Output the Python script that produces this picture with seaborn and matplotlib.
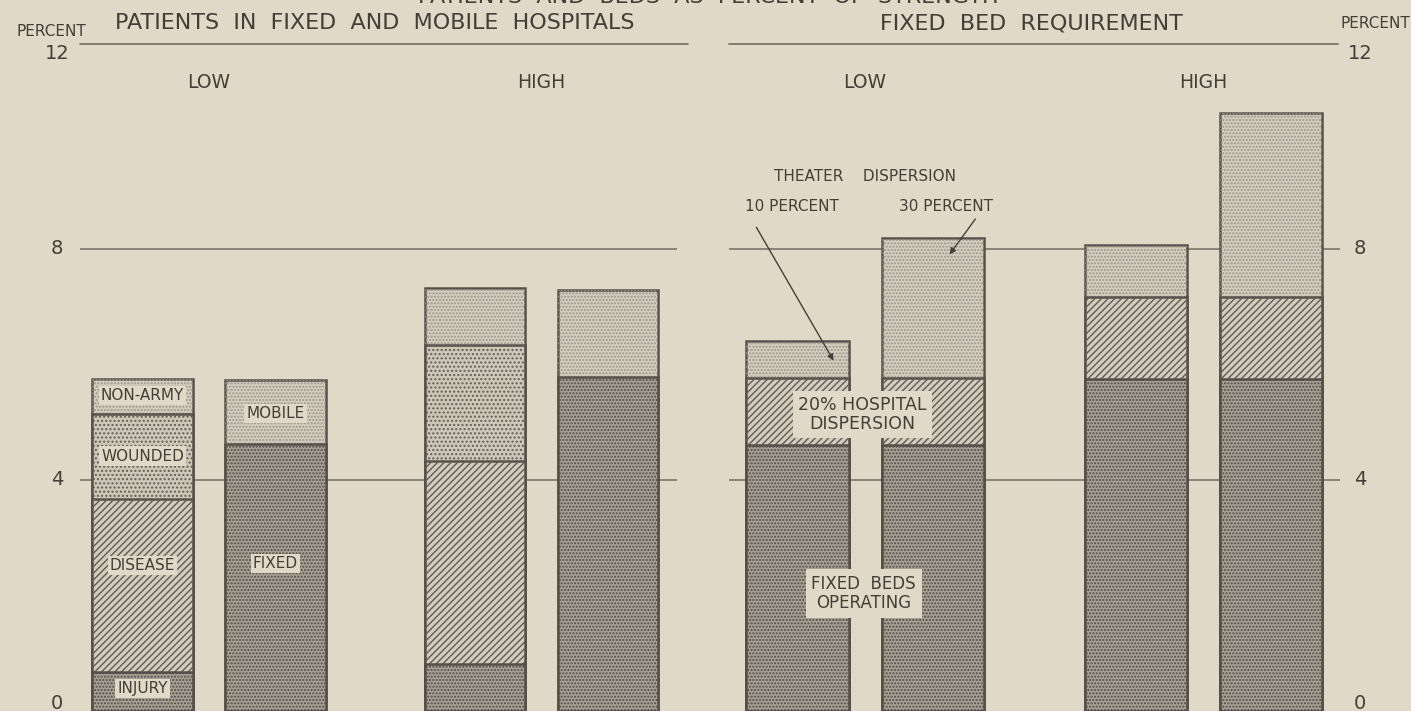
import numpy as np
import pandas as pd
import matplotlib
matplotlib.use('Agg')
import matplotlib.pyplot as plt
from matplotlib.patches import Rectangle
from matplotlib.lines import Line2D
from matplotlib.transforms import blended_transform_factory
import seaborn as sns

# values (percent of strength)
GROUPS = ['LOW', 'HIGH']

# left panel: patients by cause / by kind of hospital
CAUSE_SEGMENTS = ['INJURY', 'DISEASE', 'WOUNDED', 'NON-ARMY']
CAUSE_LOW = [0.67, 2.99, 1.48, 0.60]
CAUSE_HIGH = [0.81, 3.52, 2.00, 0.98]

HOSP_SEGMENTS = ['FIXED', 'MOBILE']
HOSP_LOW = [4.62, 1.10]
HOSP_HIGH = [5.78, 1.51]

# right panel: fixed bed requirement, 10 and 30 percent theater dispersion
BED_SEGMENTS = ['FIXED BEDS', 'HOSPITAL DISPERSION', 'THEATER DISPERSION']
BEDS_LOW_10 = [4.60, 1.16, 0.64]
BEDS_LOW_30 = [4.60, 1.16, 2.43]
BEDS_HIGH_10 = [5.74, 1.42, 0.91]
BEDS_HIGH_30 = [5.74, 1.42, 3.18]

Y_TICKS = [0, 4, 8, 12]

# look
BG = '#e0d9c7'
EDGE = '#55514a'
TEXT = '#423f39'
GRID = '#7a766e'
GROUP_STEP = 2.5
BAR_WIDTH = 0.755

FILLS = {
    'dense': ('#a7a195', '#4f4b45', '.....'),
    'medium': ('#cdc7b8', '#625e57', '....'),
    'light': ('#d4cebf', '#9a958a', '.....'),
    'lines': ('#d2ccbd', '#605c55', '/////'),
}
SEGMENT_FILL = {
    'INJURY': 'dense', 'DISEASE': 'lines', 'WOUNDED': 'medium', 'NON-ARMY': 'light',
    'FIXED': 'dense', 'MOBILE': 'light',
    'FIXED BEDS': 'dense', 'HOSPITAL DISPERSION': 'lines', 'THEATER DISPERSION': 'light',
}

sns.set_style('white')
plt.rcParams['font.family'] = ['DejaVu Sans']
plt.rcParams['hatch.linewidth'] = 1.0

W, H = 1411, 711
fig = plt.figure(figsize=(W / 100, H / 100), dpi=100, facecolor=BG)


def px(x, y):
    return x / W, 1 - y / H


def bar_positions():
    return [g * GROUP_STEP + m for g in range(len(GROUPS)) for m in range(2)]


def draw_stacks(ax, stacks):
    """stacked bars: draw cumulative tops from highest level down"""
    positions = bar_positions()
    n_levels = max(len(vals) for _, vals in stacks)
    for level in range(n_levels - 1, -1, -1):
        tops = [float(np.sum(vals[:level + 1])) if level < len(vals) else 0.0
                for _, vals in stacks]
        df = pd.DataFrame({'pos': positions, 'top': tops})
        before = len(ax.patches)
        sns.barplot(data=df, x='pos', y='top', native_scale=True, width=BAR_WIDTH,
                    color='white', errorbar=None, ax=ax)
        for patch in list(ax.patches[before:]):
            xc = patch.get_x() + patch.get_width() / 2
            i = int(np.argmin(np.abs(np.array(positions) - xc)))
            names, vals = stacks[i]
            if level >= len(vals):
                patch.set_visible(False)
                continue
            face, hcol, hatch = FILLS[SEGMENT_FILL[names[level]]]
            patch.set_facecolor(face)
            patch.set_edgecolor(EDGE)
            patch.set_linewidth(1.8)
            ax.add_patch(Rectangle(patch.get_xy(), patch.get_width(), patch.get_height(),
                                   fill=False, hatch=hatch, edgecolor=hcol, linewidth=0))


def setup_axes(left_px, right_px):
    ax = fig.add_axes([left_px / W, 0, (right_px - left_px) / W, 1])
    ax.set_facecolor('none')
    for v in Y_TICKS[1:-1]:
        ax.axhline(v, color=GRID, lw=1.2, zorder=0.5)
    return ax


label_kw = dict(ha='center', va='center', color=TEXT, zorder=5)
box = dict(facecolor=BG, edgecolor='none', pad=1.5)

# ---- left panel
ax1 = setup_axes(80, 677)
draw_stacks(ax1, [(CAUSE_SEGMENTS, CAUSE_LOW), (HOSP_SEGMENTS, HOSP_LOW),
                  (CAUSE_SEGMENTS, CAUSE_HIGH), (HOSP_SEGMENTS, HOSP_HIGH)])
ax1.set_xlim(-0.47, 4.02)
ax1.set_ylim(0, 12.30)
ax1.axis('off')

ax1.text(0, 5.46, 'NON-ARMY', fontsize=11, bbox=box, **label_kw)
ax1.text(0, 4.41, 'WOUNDED', fontsize=11, bbox=box, **label_kw)
ax1.text(0, 2.52, 'DISEASE', fontsize=11, bbox=box, **label_kw)
ax1.text(0, 0.39, 'INJURY', fontsize=11, bbox=box, **label_kw)
ax1.text(1, 5.15, 'MOBILE', fontsize=11, bbox=box, **label_kw)
ax1.text(1, 2.55, 'FIXED', fontsize=11, bbox=box, **label_kw)

# ---- right panel
ax2 = setup_axes(729, 1340)
draw_stacks(ax2, [(BED_SEGMENTS, BEDS_LOW_10), (BED_SEGMENTS, BEDS_LOW_30),
                  (BED_SEGMENTS, BEDS_HIGH_10), (BED_SEGMENTS, BEDS_HIGH_30)])
ax2.set_xlim(-0.506, 4.01)
ax2.set_ylim(0, 12.30)
ax2.axis('off')

ax2.text(0.5, 9.24, 'THEATER    DISPERSION', fontsize=11, **label_kw)
ax2.text(-0.04, 8.72, '10 PERCENT', fontsize=11, **label_kw)
ax2.text(1.10, 8.72, '30 PERCENT', fontsize=11, **label_kw)
ax2.annotate('', xy=(0.277, 6.02), xytext=(-0.314, 8.41), zorder=5,
             arrowprops=dict(arrowstyle='-|>', color=TEXT, lw=1, mutation_scale=9))
ax2.annotate('', xy=(1.112, 7.86), xytext=(1.327, 8.55), zorder=5,
             arrowprops=dict(arrowstyle='-|>', color=TEXT, lw=1, mutation_scale=9))
ax2.text(0.48, 5.13, '20% HOSPITAL\nDISPERSION', fontsize=12.5, linespacing=1.05,
         bbox=dict(facecolor=BG, edgecolor='none', pad=4), **label_kw)
ax2.text(0.49, 2.03, 'FIXED  BEDS\nOPERATING', fontsize=12, linespacing=1.1,
         bbox=dict(facecolor=BG, edgecolor='none', pad=4), **label_kw)

# group labels
for ax in (ax1, ax2):
    for g, name in enumerate(GROUPS):
        ax.text(g * GROUP_STEP + 0.5, 10.88, name, fontsize=13.5, **label_kw)

# y tick labels on both sides
for ax, xpx in ((ax1, 57), (ax2, 1360)):
    tr = blended_transform_factory(fig.transFigure, ax.transData)
    for v in Y_TICKS:
        yv = min(max(v, 0.13), 11.38)
        ax.text(xpx / W, yv, str(v), transform=tr, fontsize=14, clip_on=False, **label_kw)

# headers and rules
fig.text(*px(375, 23), 'PATIENTS  IN  FIXED  AND  MOBILE  HOSPITALS', fontsize=16,
         ha='center', va='center', color=TEXT)
fig.text(*px(1031, 23), 'FIXED  BED  REQUIREMENT', fontsize=16,
         ha='center', va='center', color=TEXT)
fig.text(*px(51, 32), 'PERCENT', fontsize=11, ha='center', va='center', color=TEXT)
fig.text(*px(1410, 23), 'PERCENT', fontsize=11, ha='right', va='center', color=TEXT)
fig.text(*px(708, 3), 'PATIENTS  AND  BEDS  AS  PERCENT  OF  STRENGTH', fontsize=16,
         ha='center', va='baseline', color=TEXT)
for x0, x1 in ((80, 688), (729, 1338)):
    fig.add_artist(Line2D([x0 / W, x1 / W], [1 - 44 / H] * 2, transform=fig.transFigure,
                          color=GRID, lw=1.3))

fig.savefig('out.png', dpi=100, facecolor=BG)
